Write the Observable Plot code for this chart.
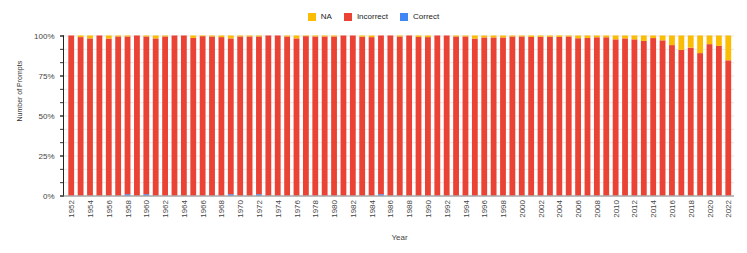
<!DOCTYPE html>
<html><head><meta charset="utf-8">
<script src="https://cdn.jsdelivr.net/npm/d3@7"></script>
<script src="https://cdn.jsdelivr.net/npm/@observablehq/plot@0.6"></script>
<style>
body{margin:0;background:#fff;font-family:"Liberation Sans",Arial,sans-serif;}
#legend{height:28px;display:flex;justify-content:center;align-items:flex-start;font-size:8px;color:#222;}
.item{display:flex;align-items:center;margin:13px 6px 0 6px;line-height:8px;height:8px;}
.sw{width:8px;height:8px;margin-right:5px;}
</style></head>
<body><div id="legend"></div><div id="chart"></div>
<script>
const years = [1952,1953,1954,1955,1956,1957,1958,1959,1960,1961,1962,1963,1964,1965,1966,1967,1968,1969,1970,1971,1972,1973,1974,1975,1976,1977,1978,1979,1980,1981,1982,1983,1984,1985,1986,1987,1988,1989,1990,1991,1992,1993,1994,1995,1996,1997,1998,1999,2000,2001,2002,2003,2004,2005,2006,2007,2008,2009,2010,2011,2012,2013,2014,2015,2016,2017,2018,2019,2020,2021,2022];
const naPct = [0,1.0,1.8,0,1.9,0.6,0.6,0,0.6,1.8,0.6,0,0,1.5,0.4,0.6,1.0,1.8,0.6,0.6,0.6,0,0,0.6,1.8,0.4,0.6,0.6,0.6,0,0,0.8,1.0,0,0,0.6,0,0.9,1.0,0,0,0.6,0.6,1.9,1.2,1.2,1.2,0.6,0.6,0.9,0.8,0.8,0.9,0.6,1.7,1.5,1.1,1.1,2.4,1.8,2.4,3.4,1.6,3.0,6.0,9.0,7.6,11.0,5.4,6.5,15.5];
const incorrectPct = [100,99.0,98.2,100,98.1,99.4,98.6,100,98.6,98.2,99.4,100,100,98.5,99.6,99.4,99.0,97.4,99.4,99.4,98.6,100,100,99.4,98.2,99.6,99.4,99.4,99.4,100,100,99.2,99.0,99.2,100,99.4,100,99.1,99.0,100,100,99.4,99.4,98.1,98.8,98.8,98.8,99.4,99.4,99.1,99.2,99.2,99.1,99.4,98.3,98.5,98.9,98.9,97.6,98.2,97.6,96.6,98.4,97.0,94.0,91.0,92.4,89.0,94.6,93.5,84.5];
const correctPct = [0,0,0,0,0,0,0.8,0,0.8,0,0,0,0,0,0,0,0,0.8,0,0,0.8,0,0,0,0,0,0,0,0,0,0,0,0,0.8,0,0,0,0,0,0,0,0,0,0,0,0,0,0,0,0,0,0,0,0,0,0,0,0,0,0,0,0,0,0,0,0,0,0,0,0,0];
const statuses = ["Correct","Incorrect","NA"];
const colors = ["#4285F4","#EA4335","#FBBC04"];
const legendOrder = ["NA","Incorrect","Correct"];
const xTickYears = [1952,1954,1956,1958,1960,1962,1964,1966,1968,1970,1972,1974,1976,1978,1980,1982,1984,1986,1988,1990,1992,1994,1996,1998,2000,2002,2004,2006,2008,2010,2012,2014,2016,2018,2020,2022];
const majorTicks = [0,25,50,75,100];
const minorTicks = [0,8.3333,16.6667,25,33.3333,41.6667,50,58.3333,66.6667,75,83.3333,91.6667,100];
const yTitle = "Number of Prompts";
const xTitle = "Year";

const data = years.flatMap((y,i)=>[
  {year:y,status:"Correct",value:correctPct[i]},
  {year:y,status:"Incorrect",value:incorrectPct[i]},
  {year:y,status:"NA",value:naPct[i]}
]);

const legend = document.getElementById("legend");
legendOrder.forEach(s=>{
  const it = document.createElement("div"); it.className="item";
  const sw = document.createElement("div"); sw.className="sw"; sw.style.background = colors[statuses.indexOf(s)];
  const t = document.createElement("span"); t.textContent = s;
  it.appendChild(sw); it.appendChild(t); legend.appendChild(it);
});

const chart = Plot.plot({
  width:747, height:225, marginTop:7.5, marginBottom:57.5, marginLeft:64, marginRight:13,
  style:{fontFamily:'"Liberation Sans", Arial, sans-serif', fontSize:"8px", color:"#444", background:"#fff"},
  x:{type:"band", domain:years, range:[65.5,734], paddingInner:0.38, paddingOuter:0.3, round:false, label:null},
  y:{domain:[0,100], label:null},
  color:{domain:statuses, range:colors},
  marks:[
    Plot.gridY(minorTicks, {stroke:"#e6e6e6", strokeOpacity:1}),
    Plot.barY(data, Plot.stackY({x:"year", y:"value", fill:"status", order:statuses})),
    Plot.ruleY([0], {stroke:"#888"}),
    Plot.axisY(minorTicks, {tickSize:4, tickFormat:()=>"", label:null, stroke:"#333"}),
    Plot.axisY(majorTicks, {tickSize:4, tickPadding:6, tickFormat:d=>d+"%", label:null, stroke:"#333"}),
    Plot.axisX(xTickYears, {tickRotate:-90, tickSize:0, tickPadding:4, tickFormat:d=>String(d), label:xTitle, labelAnchor:"center", labelOffset:44, labelArrow:"none"}),
    Plot.text([yTitle], {text:d=>d, frameAnchor:"left", dx:-45, dy:5.5, rotate:-90, fontSize:7, fill:"#333"})
  ]
});
document.getElementById("chart").appendChild(chart);
const ys = chart.scale("y");
d3.select(chart).append("line")
  .attr("x1",63.5).attr("x2",63.5)
  .attr("y1",ys.apply(0)).attr("y2",ys.apply(100))
  .attr("stroke","#222").attr("stroke-width",1);
</script>
</body></html>
